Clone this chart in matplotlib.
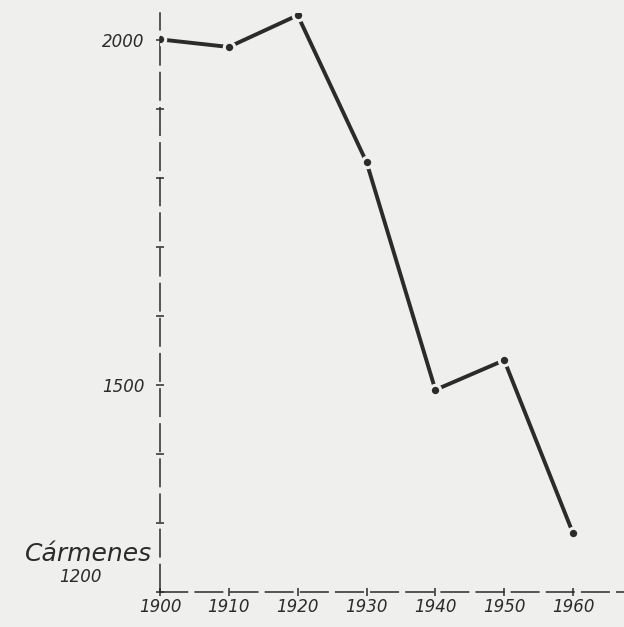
"""
Population of Cármenes, 1900-1960 (hand-drawn style line chart)
"""

### Import modules
import numpy as np
import matplotlib
matplotlib.use('Agg')
import matplotlib.pyplot as plt

### Data
years = [1900, 1910, 1920, 1930, 1940, 1950, 1960]
population = [2001, 1990, 2036, 1823, 1493, 1536, 1285]

xticklabels = ['1900', '1910', '1920', '1930', '1940', '1950', '1960']
yticks = [1200, 1300, 1400, 1500, 1600, 1700, 1800, 1900, 2000]
yticklabels = ['', '', '', '1500', '', '', '', '', '2000']
placename = 'Cármenes'

### Styling
paper = '#efefed'
ink = '#2b2b2b'
plt.rc('font', family='DejaVu Sans', style='italic')

fig = plt.figure(figsize=(6.24, 6.27), dpi=100, facecolor=paper)
ax = fig.add_axes([0.2564, 0.0558, 0.7436, 0.9232])
ax.set_facecolor(paper)

### Line with small gaps around the dots
ax.plot(years, population, color=ink, linewidth=2.8, solid_capstyle='butt',
        zorder=3)
ax.plot(years, population, linestyle='none', marker='o', markersize=7.5,
        markerfacecolor=ink, markeredgecolor=paper, markeredgewidth=2.2,
        zorder=4)

### Axes as dashed lines
for loc, spine in ax.spines.items():
    if loc in ['left', 'bottom']:
        spine.set_color(ink)
        spine.set_linewidth(1.1)
        spine.set_linestyle((0, (18, 5)))
    else:
        spine.set_color('none')

ax.set_xlim(1900, 1967.4)
ax.set_ylim(1200, 2039)

ax.set_xticks(years)
ax.set_xticklabels(xticklabels, fontsize=12)
ax.set_yticks(yticks)
ax.set_yticklabels(yticklabels, fontsize=12)
ax.tick_params('both', length=6, width=1.1, direction='inout', color=ink,
               labelcolor=ink)
ax.tick_params('x', pad=1)
ax.tick_params('y', pad=8)

### Place label at the base of the y axis
ax.text(-0.018, 0.066, placename, transform=ax.transAxes, ha='right',
        va='center', fontsize=18, color=ink)
ax.text(-0.172, 0.026, '1200', transform=ax.transAxes, ha='center',
        va='center', fontsize=12, color=ink)

plt.savefig('out.png', dpi=100, facecolor=paper)
